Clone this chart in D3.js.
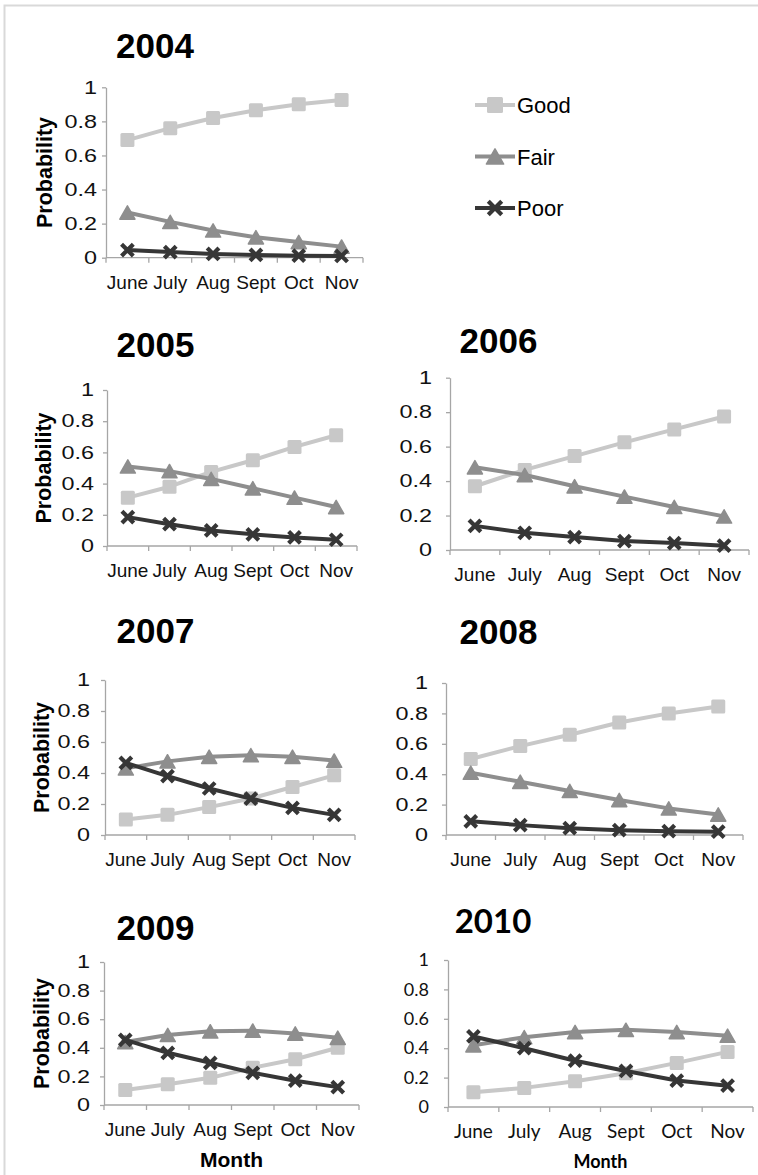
<!DOCTYPE html>
<html>
<head>
<meta charset="utf-8">
<script src="https://cdn.jsdelivr.net/npm/d3@7"></script>
<style>
  html, body { margin: 0; padding: 0; background: #fff; }
  svg { display: block; }
</style>
</head>
<body>
<svg id="chart" width="758" height="1175"></svg>
<script>
// Monthly condition probabilities, one small panel per year
const months = ["June", "July", "Aug", "Sept", "Oct", "Nov"];
const years = ["2004", "2005", "2006", "2007", "2008", "2009", "2010"];
const seriesNames = ["Good", "Fair", "Poor"];
const yTicks = [0, 0.2, 0.4, 0.6, 0.8, 1];

const good2004 = [0.69, 0.76, 0.82, 0.865, 0.90, 0.925];
const fair2004 = [0.265, 0.21, 0.16, 0.12, 0.092, 0.065];
const poor2004 = [0.045, 0.033, 0.022, 0.016, 0.012, 0.01];

const good2005 = [0.31, 0.38, 0.475, 0.55, 0.635, 0.71];
const fair2005 = [0.51, 0.48, 0.43, 0.37, 0.31, 0.25];
const poor2005 = [0.185, 0.14, 0.10, 0.075, 0.055, 0.04];

const good2006 = [0.37, 0.465, 0.545, 0.625, 0.70, 0.775];
const fair2006 = [0.48, 0.435, 0.37, 0.31, 0.25, 0.195];
const poor2006 = [0.14, 0.10, 0.075, 0.052, 0.04, 0.025];

const good2007 = [0.10, 0.13, 0.18, 0.235, 0.31, 0.385];
const fair2007 = [0.43, 0.475, 0.505, 0.515, 0.505, 0.48];
const poor2007 = [0.465, 0.38, 0.30, 0.235, 0.175, 0.13];

const good2008 = [0.50, 0.585, 0.66, 0.74, 0.80, 0.845];
const fair2008 = [0.41, 0.35, 0.29, 0.23, 0.175, 0.135];
const poor2008 = [0.09, 0.065, 0.045, 0.032, 0.025, 0.022];

const good2009 = [0.105, 0.145, 0.19, 0.26, 0.32, 0.40];
const fair2009 = [0.44, 0.49, 0.515, 0.52, 0.50, 0.47];
const poor2009 = [0.455, 0.365, 0.295, 0.225, 0.17, 0.125];

const good2010 = [0.10, 0.13, 0.175, 0.23, 0.30, 0.375];
const fair2010 = [0.42, 0.475, 0.51, 0.525, 0.51, 0.485];
const poor2010 = [0.48, 0.40, 0.315, 0.245, 0.18, 0.145];

const seriesByYear = {
  "2004": [good2004, fair2004, poor2004],
  "2005": [good2005, fair2005, poor2005],
  "2006": [good2006, fair2006, poor2006],
  "2007": [good2007, fair2007, poor2007],
  "2008": [good2008, fair2008, poor2008],
  "2009": [good2009, fair2009, poor2009],
  "2010": [good2010, fair2010, poor2010]
};

// Styling of each series: line/marker colour and marker shape
const seriesStyle = [
  { color: "#c8c8c8", shape: "square" },
  { color: "#8e8e8e", shape: "triangle" },
  { color: "#363636", shape: "cross" }
];

// Panel placement on the page
const ARIAL = "'Liberation Sans', Arial, sans-serif";
const CALI = "Lato, 'Open Sans', sans-serif";
const layout = {
  "2004": { l: 106, r: 363, t: 87.3, b: 257.7, tx: 155, ty: 58, pad: 5, ylab: 46, font: ARIAL, wide: 1.3 },
  "2005": { l: 107, r: 357, t: 390, b: 546, tx: 155.5, ty: 357, pad: 9, ylab: 45, font: ARIAL, wide: 1.3 },
  "2006": { l: 450, r: 749, t: 377.7, b: 550, tx: 498.5, ty: 353, pad: 14, font: ARIAL, wide: 1.3 },
  "2007": { l: 105, r: 355, t: 680, b: 835, tx: 155.5, ty: 643, pad: 11, ylab: 43, font: ARIAL, wide: 1.3 },
  "2008": { l: 446, r: 743, t: 683, b: 835, tx: 498.5, ty: 644, pad: 14, font: ARIAL, wide: 1.3 },
  "2009": { l: 104, r: 359, t: 962, b: 1105, tx: 155.5, ty: 940, pad: 10, ylab: 43, xlab: 1167, font: ARIAL, wide: 1.3 },
  "2010": { l: 448, r: 753, t: 960, b: 1107, tx: 493, ty: 933, pad: 15, xlab: 1168, font: CALI, wide: 1 }
};

const svg = d3.select("#chart");

// thin frame along the top and left edges
svg.append("path")
  .attr("d", "M4.5,1175V5.5H758")
  .attr("fill", "none")
  .attr("stroke", "#d9d9d9")
  .attr("stroke-width", 2);

function drawMarker(g, shape, color, x, y, s) {
  const h = s / 2;
  if (shape === "square") {
    g.append("rect")
      .attr("x", x - h).attr("y", y - h)
      .attr("width", s).attr("height", s)
      .attr("rx", 1.5)
      .attr("fill", color);
  } else if (shape === "triangle") {
    const w = s * 1.08, th = s * 0.95;
    g.append("path")
      .attr("d", `M${x},${y - th / 2}L${x + w / 2},${y + th / 2}L${x - w / 2},${y + th / 2}Z`)
      .attr("fill", color)
      .attr("stroke", color)
      .attr("stroke-width", 1.5)
      .attr("stroke-linejoin", "round");
  } else {
    const c = s * 0.42;
    g.append("path")
      .attr("d", `M${x - c},${y - c}L${x + c},${y + c}M${x - c},${y + c}L${x + c},${y - c}`)
      .attr("stroke", color)
      .attr("stroke-width", 4.2)
      .attr("stroke-linecap", "butt");
  }
}

years.forEach(year => {
  const p = layout[year];
  const g = svg.append("g");

  const x = d3.scaleBand().domain(months).range([p.l, p.r]);
  const y = d3.scaleLinear().domain([0, 1]).range([p.b, p.t]);

  // title
  g.append("text")
    .attr("x", p.tx).attr("y", p.ty)
    .attr("text-anchor", "middle")
    .attr("font-family", p.font)
    .attr("font-weight", "bold")
    .attr("font-size", year === "2010" ? 33 : 35)
    .attr("fill", "#000")
    .text(year);

  // y axis
  const yAxis = g.append("g")
    .attr("transform", `translate(${p.l},0)`)
    .call(d3.axisLeft(y).tickValues(yTicks).tickSize(4).tickSizeOuter(0)
      .tickPadding(p.pad).tickFormat(d => d === 0 || d === 1 ? d3.format("d")(d) : d3.format(".1f")(d)));
  yAxis.select(".domain").attr("stroke", "#a6a6a6").attr("stroke-width", 1.3);
  yAxis.selectAll(".tick line").attr("stroke", "#a6a6a6").attr("stroke-width", 1.3);
  yAxis.selectAll(".tick text")
    .attr("x", 0)
    .attr("transform", `translate(${-(4 + p.pad)},0) scale(${p.wide},1)`)
    .attr("font-family", p.font)
    .attr("font-size", 18)
    .attr("fill", "#111");

  // x axis with month labels centred in each band
  const xAxis = g.append("g")
    .attr("transform", `translate(0,${p.b})`)
    .call(d3.axisBottom(x).tickSize(0).tickPadding(18));
  xAxis.select(".domain").remove();
  xAxis.selectAll(".tick text")
    .attr("font-family", p.font)
    .attr("font-size", 19)
    .attr("fill", "#111");
  g.append("line")
    .attr("x1", p.l).attr("x2", p.r)
    .attr("y1", p.b).attr("y2", p.b)
    .attr("stroke", "#a6a6a6").attr("stroke-width", 1.3);
  // tick marks on band boundaries
  const bounds = months.map(m => x(m)).concat([x.range()[1]]);
  g.selectAll(".btick").data(bounds).enter().append("line")
    .attr("x1", d => d).attr("x2", d => d)
    .attr("y1", p.b).attr("y2", p.b + 5)
    .attr("stroke", "#a6a6a6").attr("stroke-width", 1.3);

  // axis titles
  if (p.ylab) {
    g.append("text")
      .attr("transform", `translate(${p.ylab + 5.5},${(p.t + p.b) / 2}) rotate(-90)`)
      .attr("text-anchor", "middle")
      .attr("font-family", p.font)
      .attr("font-weight", "bold")
      .attr("font-size", 21.5)
      .attr("fill", "#000")
      .text("Probability");
  }
  if (p.xlab) {
    g.append("text")
      .attr("x", (p.l + p.r) / 2).attr("y", p.xlab)
      .attr("text-anchor", "middle")
      .attr("font-family", p.font)
      .attr("font-weight", "bold")
      .attr("font-size", year === "2010" ? 18 : 21)
      .attr("fill", "#000")
      .text("Month");
  }

  // series lines and markers
  const line = d3.line().x((d, i) => x(months[i]) + x.bandwidth() / 2).y(d => y(d));
  seriesByYear[year].forEach((vals, si) => {
    const st = seriesStyle[si];
    g.append("path")
      .datum(vals)
      .attr("d", line)
      .attr("fill", "none")
      .attr("stroke", st.color)
      .attr("stroke-width", 4)
      .attr("stroke-linejoin", "round");
    vals.forEach((v, i) => {
      drawMarker(g, st.shape, st.color, x(months[i]) + x.bandwidth() / 2, y(v), 14);
    });
  });
});

// legend beside the 2004 panel
const legend = svg.append("g");
seriesNames.forEach((name, i) => {
  const st = seriesStyle[i];
  const ly = 105 + i * 51.5;
  legend.append("line")
    .attr("x1", 475).attr("x2", 515)
    .attr("y1", ly).attr("y2", ly)
    .attr("stroke", st.color).attr("stroke-width", 4);
  drawMarker(legend, st.shape, st.color, 495, ly, 16);
  legend.append("text")
    .attr("x", 517).attr("y", ly + 8)
    .attr("font-family", ARIAL)
    .attr("font-size", 22)
    .attr("fill", "#000")
    .text(name);
});
</script>
</body>
</html>
